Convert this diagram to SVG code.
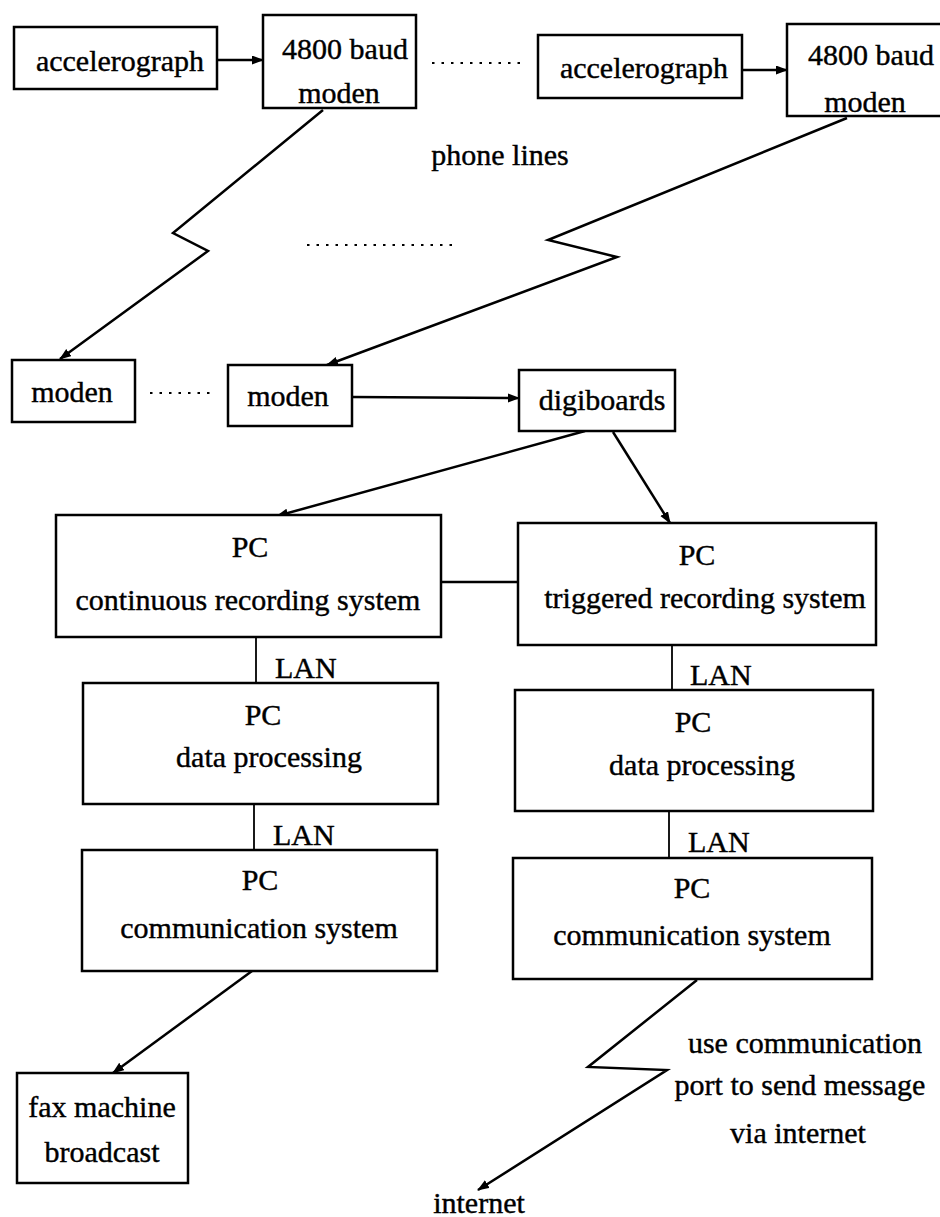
<svg xmlns="http://www.w3.org/2000/svg" width="940" height="1217" viewBox="0 0 940 1217">
<defs>
<marker id="ah" markerWidth="12" markerHeight="10" refX="11" refY="4.5" orient="auto" markerUnits="userSpaceOnUse">
<path d="M0,0 L12,4.5 L0,9 Z" fill="#000"/>
</marker>
<style>
.box{fill:#fff;stroke:#000;stroke-width:2.5}
.t{font-family:"Liberation Serif","Times New Roman",serif;font-size:30px;fill:#000;stroke:#000;stroke-width:0.4;text-anchor:middle}
.l{font-family:"Liberation Serif","Times New Roman",serif;font-size:30px;fill:#000;stroke:#000;stroke-width:0.4}
.c{fill:none;stroke:#000;stroke-width:2.5}
.lan{fill:none;stroke:#000;stroke-width:1.8}
.dot{fill:none;stroke:#000;stroke-width:2.2;stroke-dasharray:2.5 7}
</style>
</defs>
<rect width="940" height="1217" fill="#fff"/>
<g id="connectors">
<line class="c" x1="217" y1="60" x2="263" y2="60" marker-end="url(#ah)"/>
<line class="c" x1="742" y1="70" x2="787" y2="70" marker-end="url(#ah)"/>
<path class="c" d="M323,110 L173,233 L208,251 L60,359" marker-end="url(#ah)"/>
<path class="c" d="M847,118 L548,240 L617,257 L327,365" marker-end="url(#ah)"/>
<line class="c" x1="352" y1="397" x2="519" y2="398" marker-end="url(#ah)"/>
<line class="c" x1="585" y1="431" x2="277" y2="516" marker-end="url(#ah)"/>
<line class="c" x1="613" y1="432" x2="670" y2="523" marker-end="url(#ah)"/>
<line class="c" x1="441" y1="582" x2="518" y2="582"/>
<line class="lan" x1="256" y1="637" x2="256" y2="683"/>
<line class="lan" x1="254" y1="804" x2="254" y2="850"/>
<line class="lan" x1="672" y1="645" x2="672" y2="690"/>
<line class="lan" x1="669" y1="811" x2="669" y2="858"/>
<line class="c" x1="252" y1="971" x2="113" y2="1073" marker-end="url(#ah)"/>
<path class="c" d="M697,980 L588,1067 L667,1070 L478,1190" marker-end="url(#ah)"/>
<line class="dot" x1="432" y1="63" x2="524" y2="63"/>
<line class="dot" x1="307" y1="245" x2="456" y2="245"/>
<line class="dot" x1="150" y1="393" x2="211" y2="393"/>
<text class="l" x="275" y="678">LAN</text>
<text class="l" x="273" y="845">LAN</text>
<text class="l" x="690" y="685">LAN</text>
<text class="l" x="688" y="852">LAN</text>
<text class="t" x="500" y="165">phone lines</text>
<text class="t" x="805" y="1053">use communication</text>
<text class="t" x="800" y="1095">port to send message</text>
<text class="t" x="798" y="1143">via internet</text>
<text class="t" x="479" y="1213">internet</text>
</g>
<g id="accelerograph1"><rect class="box" x="14" y="27" width="203" height="62"/><text class="t" x="120" y="71">accelerograph</text></g>
<g id="modem_baud1"><rect class="box" x="263" y="15" width="153" height="93"/><text class="t" x="345" y="59">4800 baud</text><text class="t" x="339" y="103">moden</text></g>
<g id="accelerograph2"><rect class="box" x="538" y="35" width="204" height="63"/><text class="t" x="644" y="78">accelerograph</text></g>
<g id="modem_baud2"><rect class="box" x="787" y="24" width="165" height="92"/><text class="t" x="871" y="65">4800 baud</text><text class="t" x="865" y="112">moden</text></g>
<g id="moden1"><rect class="box" x="12" y="360" width="123" height="62"/><text class="t" x="72" y="402">moden</text></g>
<g id="moden2"><rect class="box" x="228" y="365" width="124" height="61"/><text class="t" x="288" y="406">moden</text></g>
<g id="digiboards"><rect class="box" x="519" y="370" width="156" height="61"/><text class="t" x="602" y="410">digiboards</text></g>
<g id="pc_continuous"><rect class="box" x="56" y="515" width="385" height="122"/><text class="t" x="250" y="557">PC</text><text class="t" x="248" y="610">continuous recording system</text></g>
<g id="pc_triggered"><rect class="box" x="518" y="523" width="358" height="122"/><text class="t" x="697" y="565">PC</text><text class="t" x="705" y="608">triggered recording system</text></g>
<g id="pc_dp_left"><rect class="box" x="83" y="683" width="355" height="121"/><text class="t" x="263" y="725">PC</text><text class="t" x="269" y="767">data processing</text></g>
<g id="pc_dp_right"><rect class="box" x="515" y="690" width="358" height="121"/><text class="t" x="693" y="732">PC</text><text class="t" x="702" y="775">data processing</text></g>
<g id="pc_comm_left"><rect class="box" x="82" y="850" width="355" height="121"/><text class="t" x="260" y="890">PC</text><text class="t" x="259" y="938">communication system</text></g>
<g id="pc_comm_right"><rect class="box" x="513" y="858" width="359" height="121"/><text class="t" x="692" y="898">PC</text><text class="t" x="692" y="945">communication system</text></g>
<g id="fax"><rect class="box" x="17" y="1073" width="171" height="110"/><text class="t" x="102" y="1117">fax machine</text><text class="t" x="102" y="1162">broadcast</text></g>
</svg>
